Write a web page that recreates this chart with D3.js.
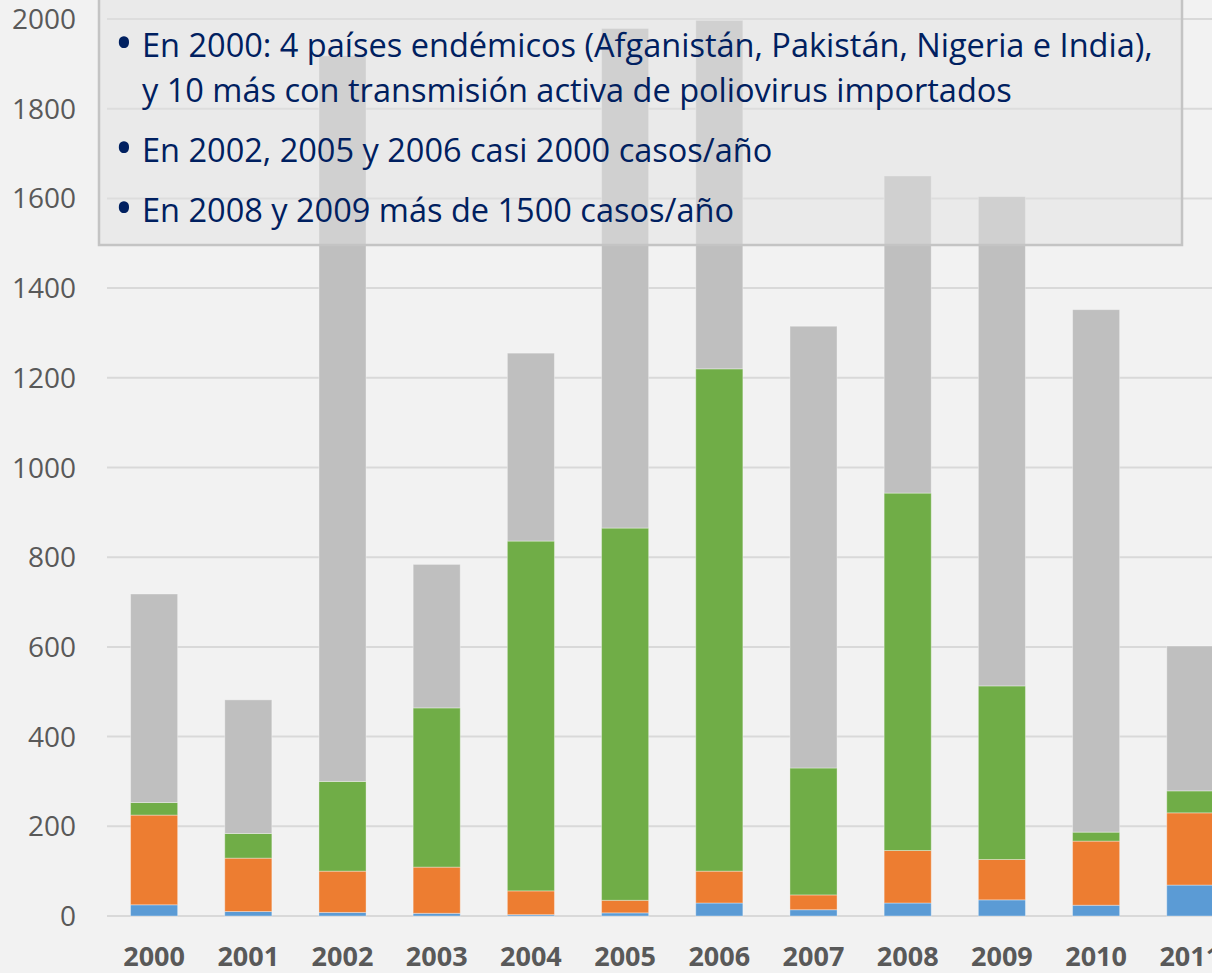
<!DOCTYPE html>
<html>
<head>
<meta charset="utf-8">
<script src="https://cdn.jsdelivr.net/npm/d3@7"></script>
<style>
    body { margin: 0; background: #f2f2f2; overflow: hidden; }
    svg { display: block; }
</style>
</head>
<body>
<script>

// data (bottom to top: blue, orange, green, gray)
const years = ["2000", "2001", "2002", "2003", "2004", "2005", "2006", "2007", "2008", "2009", "2010", "2011"];
const serie_azul = [25, 10, 8, 6, 3, 7, 29, 14, 29, 36, 24, 69];
const serie_naranja = [200, 119, 92, 103, 53, 28, 71, 33, 117, 90, 143, 161];
const serie_verde = [28, 55, 200, 355, 780, 830, 1120, 283, 797, 387, 20, 49];
const serie_gris = [465, 298, 1618, 320, 419, 1114, 777, 985, 707, 1091, 1165, 323];
const y_ticks = [0, 200, 400, 600, 800, 1000, 1200, 1400, 1600, 1800, 2000];

const texto_lineas = [
    {bullet: true, text: "En 2000: 4 países endémicos (Afganistán, Pakistán, Nigeria e India),"},
    {bullet: false, text: "y 10 más con transmisión activa de poliovirus importados"},
    {bullet: true, text: "En 2002, 2005 y 2006 casi 2000 casos/año"},
    {bullet: true, text: "En 2008 y 2009 más de 1500 casos/año"}
];

const WIDTH = 1212;
const HEIGHT = 973;
const COLORS = ["#5b9bd5", "#ed7d31", "#70ad47", "#bfbfbf"];
const FONT = "'Open Sans', 'Noto Sans', sans-serif";

const svg = d3.select("body").append("svg")
    .attr("width", WIDTH)
    .attr("height", HEIGHT);

svg.append("rect")
    .attr("width", WIDTH)
    .attr("height", HEIGHT)
    .attr("fill", "#f2f2f2");

// the plot runs past the right edge, like the cropped original
const x = d3.scaleBand()
    .domain(years)
    .range([107, 107 + 12 * 94.2])
    .paddingInner(0.5)
    .paddingOuter(0.25);

const y = d3.scaleLinear()
    .domain([0, 2000])
    .range([916, 19]);

// gridlines
svg.append("g")
    .selectAll("line")
    .data(y_ticks)
    .join("line")
    .attr("x1", 107)
    .attr("x2", WIDTH)
    .attr("y1", d => y(d))
    .attr("y2", d => y(d))
    .attr("stroke", "#d9d9d9")
    .attr("stroke-width", 2);

// y labels
svg.append("g")
    .selectAll("text")
    .data(y_ticks)
    .join("text")
    .attr("x", 76)
    .attr("y", d => y(d))
    .attr("dy", "0.36em")
    .attr("text-anchor", "end")
    .attr("font-family", FONT)
    .attr("font-size", 28)
    .attr("fill", "#595959")
    .text(d => d);

// stacked bars
const table = years.map((yr, i) => ({
    year: yr,
    azul: serie_azul[i],
    naranja: serie_naranja[i],
    verde: serie_verde[i],
    gris: serie_gris[i]
}));

const stack = d3.stack().keys(["azul", "naranja", "verde", "gris"])(table);

svg.append("g")
    .selectAll("g")
    .data(stack)
    .join("g")
    .attr("fill", (d, i) => COLORS[i])
    .selectAll("rect")
    .data(d => d)
    .join("rect")
    .attr("x", d => x(d.data.year))
    .attr("width", x.bandwidth())
    .attr("y", d => y(d[1]))
    .attr("height", d => y(d[0]) - y(d[1]))
    .attr("stroke", "#ffffff")
    .attr("stroke-opacity", 0.35)
    .attr("stroke-width", 1);

// x labels
svg.append("g")
    .selectAll("text")
    .data(years)
    .join("text")
    .attr("x", d => x(d) + x.bandwidth() / 2)
    .attr("y", 966)
    .attr("text-anchor", "middle")
    .attr("font-family", FONT)
    .attr("font-size", 27)
    .attr("font-weight", "bold")
    .attr("fill", "#595959")
    .text(d => d);

// text box over the chart
const box = svg.append("g");

box.append("rect")
    .attr("x", 99)
    .attr("y", -20)
    .attr("width", 1083)
    .attr("height", 265)
    .attr("fill", "#e2e2e2")
    .attr("fill-opacity", 0.5)
    .attr("stroke", "#c4c4c4")
    .attr("stroke-width", 2.5);

const baselines = [57, 102, 162, 222];

const lines = box.selectAll("text.Linea")
    .data(texto_lineas)
    .join("text")
    .attr("class", "Linea")
    .attr("x", 142)
    .attr("y", (d, i) => baselines[i])
    .attr("font-family", FONT)
    .attr("font-size", 30)
    .attr("fill", "#002060")
    .text(d => d.text);

// first line should end near x = 1153, scale the font to match
const first_width = lines.node().getComputedTextLength();
const text_size = 30 * 1011 / first_width;
lines.attr("font-size", text_size);

box.selectAll("text.Bullet")
    .data(texto_lineas.filter(d => d.bullet))
    .join("text")
    .attr("class", "Bullet")
    .attr("x", 124)
    .attr("y", d => baselines[texto_lineas.indexOf(d)] + 3)
    .attr("text-anchor", "middle")
    .attr("font-family", FONT)
    .attr("font-size", text_size * 1.5)
    .attr("fill", "#002060")
    .text("•");

</script>
</body>
</html>
